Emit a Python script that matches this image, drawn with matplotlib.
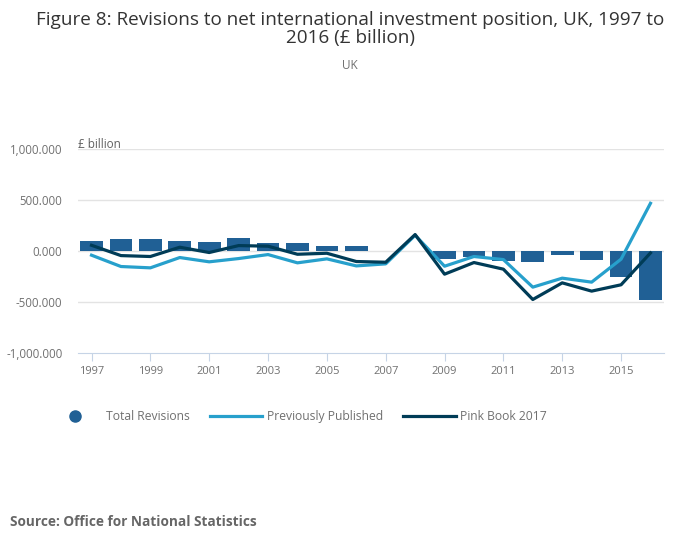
import numpy as np
import matplotlib.pyplot as plt
from matplotlib.lines import Line2D

plt.rcParams['font.family'] = ['Open Sans', 'DejaVu Sans']

years = list(range(1997, 2017))
total_revisions = [95, 117, 117, 95, 88, 127, 78, 78, 49, 49,
                   3, 3, -78, -59, -98, -107, -39, -88, -254, -479]
previously_published = [-42, -153, -166, -65, -107, -75, -36, -117, -78, -147,
                        -127, 153, -150, -55, -85, -355, -267, -306, -81, 466]
pink_book_2017 = [55, -46, -55, 36, -16, 52, 46, -33, -23, -104,
                  -111, 160, -228, -114, -179, -476, -313, -394, -332, -20]
xtick_years = list(range(1997, 2017, 2))
yticks = [-1000, -500, 0, 500, 1000]

bar_col = '#206095'
light_col = '#27a0cc'
dark_col = '#003c57'
txt_col = '#707070'

fig = plt.figure(figsize=(7, 5.49), dpi=100)
ax = fig.add_axes([0.111, 0.357, 0.838, 0.372])

ax.bar(years, total_revisions, width=0.77, color=bar_col, zorder=2)
ax.plot(years, previously_published, color=light_col, lw=2.3, zorder=3)
ax.plot(years, pink_book_2017, color=dark_col, lw=2.3, zorder=4)

ax.set_xlim(1996.53, 2016.47)
ax.set_ylim(-1000, 1000)
ax.set_yticks(yticks)
ax.set_yticklabels(['{:,.3f}'.format(v) for v in yticks])
ax.set_xticks(xtick_years)
ax.set_xticklabels([str(y) for y in xtick_years])

for v in yticks[1:]:
    ax.axhline(v, color='#e3e3e3', lw=1, zorder=1)

for s in ['top', 'right', 'left']:
    ax.spines[s].set_visible(False)
ax.spines['bottom'].set_color('#c6d4e6')
ax.tick_params(axis='x', colors='#c6d4e6', length=6, labelcolor=txt_col, labelsize=8)
ax.tick_params(axis='y', length=0, labelcolor=txt_col, labelsize=8.3, pad=11)

ax.text(0.0, 1.02, '£ billion', transform=ax.transAxes, fontsize=8.5,
        color='#606060', ha='left', va='center')

fig.text(0.5, 0.947, 'Figure 8: Revisions to net international investment position, UK, 1997 to\n2016 (£ billion)',
         ha='center', va='center', fontsize=13.6, color='#333333', linespacing=1.05)
fig.text(0.5, 0.880, 'UK', ha='center', va='center', fontsize=8.5, color='#707070')

handles = [Line2D([], [], marker='o', ls='none', color=bar_col, markersize=8),
           Line2D([], [], color=light_col, lw=2.3),
           Line2D([], [], color=dark_col, lw=2.3)]
labels = ['Total Revisions', 'Previously Published', 'Pink Book 2017']
leg = fig.legend(handles, labels, loc='center left', bbox_to_anchor=(0.069, 0.241),
                 ncol=3, frameon=False, fontsize=8.7, handlelength=4.35,
                 columnspacing=1.65, handletextpad=0.4, borderpad=0, borderaxespad=0)
for t in leg.get_texts():
    t.set_color('#707070')

fig.text(0.014, 0.049, 'Source: Office for National Statistics', fontsize=9.85,
         fontweight='bold', color='#666666', ha='left', va='center')

fig.savefig('out.png', dpi=100)
